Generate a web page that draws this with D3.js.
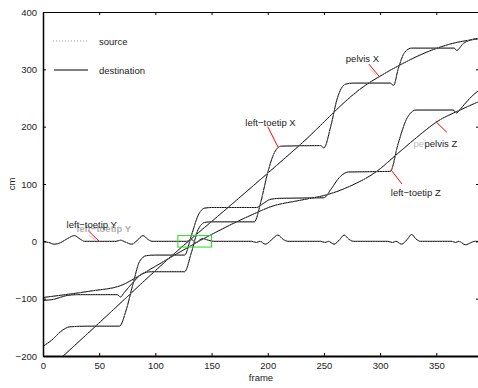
<!DOCTYPE html>
<html>
<head>
<meta charset="utf-8">
<script src="https://cdn.jsdelivr.net/npm/d3@7"></script>
<style>
  body { margin: 0; background: white; }
  svg { display: block; font-family: "Liberation Sans", Arial, sans-serif; }
  .tick text { font-size: 9.5px; fill: #222; }
  .lbl { font-size: 9.5px; fill: #222; }
</style>
</head>
<body>
<svg width="478" height="388"></svg>
<script>
// [frame, cm] points
var pelvisX = [[0,-232],[18,-200],[60,-124],[113,-28],[170,68],[228,167],[289,275],
  [299,287],[320,310],[344,332],[362,344],[387,353]]

var pelvisZ = [[0,-98],[20,-93],[45,-86],[68,-78],[90,-55],[110,-32],[150,12],[190,50],
  [202,60],[230,72],[254,82],[273,96],[297,122],[315,152],[338,190],[350,208],[370,228],[387,243]]

var toetipX = [[0,-103],[10,-101],[20,-95],[30,-93],[66,-93],[69,-97],[72,-90],[80,-72],
  [88,-57],[96,-53],[126,-53],[132,-20],[138,20],[144,33],[150,34],[188,34],[194,70],
  [200,120],[206,155],[212,166],[247,167],[250,163],[256,200],[262,250],[269,274],[276,276],
  [309,276],[312,272],[316,300],[322,330],[328,337],[366,337],[368,333],[374,345],[380,351],[387,354]]

var toetipZ = [[0,-183],[8,-172],[16,-157],[24,-149],[40,-148],[68,-148],[74,-120],[80,-75],
  [86,-35],[92,-25],[100,-24],[126,-24],[132,10],[138,45],[144,58],[150,59],[190,59],[196,66],
  [202,73],[210,75],[250,76],[256,90],[264,112],[272,121],[309,122],[316,170],[324,215],
  [332,229],[365,229],[368,224],[372,232],[380,250],[387,262]]

var toetipY = [[0,0],[5,-2],[10,-5],[16,-2],[22,5],[28,10],[33,4],[37,0],[65,0],[69,2],[73,-1],
  [79,-5],[84,2],[89,10],[93,4],[97,0],[128,0],[132,3],[136,-2],[142,5],[147,2],[152,0],
  [186,0],[190,-2],[193,0],[198,-5],[203,2],[209,11],[214,3],[218,0],[247,0],[251,-2],[254,0],
  [259,-5],[264,3],[268,11],[272,4],[276,0],[307,0],[311,-2],[314,0],[319,-5],[324,3],[328,12],
  [332,4],[336,0],[364,0],[367,-2],[370,0],[376,-6],[381,-2],[384,0],[387,0]]

var xTicks = [0, 50, 100, 150, 200, 250, 300, 350]
var yTicks = [-200, -100, 0, 100, 200, 300, 400]

// label text, point on curve [frame, cm], text position, other end of leader
var labels = [
  { name: "left\u2212toetip Y", at: [50, 0], text: [21, 24], tip: [40, 19] },
  { name: "left\u2212toetip X", at: [209.5, 163], text: [180, 202], tip: [200, 200] },
  { name: "pelvis X", at: [299.5, 287], text: [269.5, 312], tip: [290, 309] },
  { name: "pelvis Z", at: [349.5, 209], text: [339.5, 164], tip: [359.5, 190] },
  { name: "left\u2212toetip Z", at: [309.5, 125], text: [309.5, 79], tip: [319.5, 100] }
]

var box = { x: [120, 150], y: [-10, 10] }

var
  svg = d3.select("svg"),
  margin = { top: 12, right: -1, bottom: 32, left: 43 },
  width = 478 - margin.left - margin.right,
  height = 388 - margin.top - margin.bottom

var
  frame = d3.scaleLinear().domain([0, 388]).range([margin.left, margin.left + width]),
  cm = d3.scaleLinear().domain([-200, 400]).range([margin.top + height, margin.top])

svg.append("clipPath").attr("id", "plot")
  .append("rect")
  .attr("x", margin.left).attr("y", margin.top)
  .attr("width", width).attr("height", height)

var line = d3.line()
  .x(d => frame(d[0]))
  .y(d => cm(d[1]))
  .curve(d3.curveMonotoneX)

var series = [pelvisX, pelvisZ, toetipX, toetipZ, toetipY]
var plot = svg.append("g").attr("clip-path", "url(#plot)")

plot.selectAll("path.dest").data(series).join("path")
  .attr("class", "dest")
  .attr("d", line)
  .attr("fill", "none")
  .attr("stroke", "#000")
  .attr("stroke-width", 1)

plot.selectAll("path.src").data(series).join("path")
  .attr("class", "src")
  .attr("d", line)
  .attr("fill", "none")
  .attr("stroke", "#888")
  .attr("stroke-width", 1)
  .attr("stroke-dasharray", "1,1.5")

// green box
svg.append("rect")
  .attr("x", frame(box.x[0])).attr("y", cm(box.y[1]))
  .attr("width", frame(box.x[1]) - frame(box.x[0]))
  .attr("height", cm(box.y[0]) - cm(box.y[1]))
  .attr("fill", "none")
  .attr("stroke", "#22dd22")
  .attr("stroke-width", 1)

// faint source leaders
;[0, 2].forEach(function(i) {
  var l = labels[i]
  svg.append("line")
    .attr("x1", frame(l.tip[0]) + 1).attr("y1", cm(l.tip[1]) + 5)
    .attr("x2", frame(l.at[0]) - 3).attr("y2", cm(l.at[1]) - 1)
    .attr("stroke", "#f8b8b8").attr("stroke-width", 1)
})

labels.forEach(function(l) {
  svg.append("line")
    .attr("x1", frame(l.tip[0])).attr("y1", cm(l.tip[1]))
    .attr("x2", frame(l.at[0])).attr("y2", cm(l.at[1]))
    .attr("stroke", "red").attr("stroke-width", 1)
})

// grey source labels
svg.append("text").attr("class", "lbl")
  .attr("x", frame(labels[0].text[0]) + 10).attr("y", cm(labels[0].text[1]) + 4)
  .style("fill", "#b0b0b0").style("font-weight", "bold")
  .text(labels[0].name)
svg.append("text").attr("class", "lbl")
  .attr("x", frame(labels[3].text[0]) - 11).attr("y", cm(labels[3].text[1]))
  .style("fill", "#bbb")
  .text(labels[3].name)

labels.forEach(function(l, i) {
  svg.append("text").attr("class", "lbl")
    .attr("x", frame(l.text[0])).attr("y", cm(l.text[1]))
    .style("paint-order", i == 3 ? "stroke" : null)
    .style("stroke", i == 3 ? "white" : null)
    .style("stroke-width", i == 3 ? 2 : null)
    .text(l.name)
})

// axes, ticks inward
var bottomAxis = svg.append("g")
  .attr("transform", `translate(0,${margin.top + height})`)
  .call(d3.axisBottom(frame).tickValues(xTicks).tickSizeInner(-3).tickSizeOuter(0).tickPadding(6))
svg.append("g")
  .attr("transform", `translate(0,${margin.top})`)
  .call(d3.axisTop(frame).tickValues(xTicks).tickSizeInner(-3).tickSizeOuter(0).tickFormat(""))
var leftAxis = svg.append("g")
  .attr("transform", `translate(${margin.left},0)`)
  .call(d3.axisLeft(cm).tickValues(yTicks).tickSizeInner(-3).tickSizeOuter(0).tickPadding(6))
svg.append("g")
  .attr("transform", `translate(${margin.left + width},0)`)
  .call(d3.axisRight(cm).tickValues(yTicks).tickSizeInner(-3).tickSizeOuter(0).tickFormat(""))

svg.selectAll(".domain").attr("stroke", "#000")
bottomAxis.select(".domain").attr("stroke-width", 2.2)
leftAxis.select(".domain").attr("stroke-width", 1.5)
leftAxis.selectAll("text").text(d => d < 0 ? "\u2212" + (-d) : d)

svg.append("text").attr("class", "lbl")
  .attr("x", margin.left + width / 2).attr("y", 381)
  .style("text-anchor", "middle")
  .text("frame")

svg.append("text").attr("class", "lbl")
  .attr("transform", `translate(15,${margin.top + height / 2}) rotate(270)`)
  .style("text-anchor", "middle")
  .text("cm")

// legend
svg.append("line")
  .attr("x1", 53).attr("x2", 87).attr("y1", 41).attr("y2", 41)
  .attr("stroke", "#999").attr("stroke-dasharray", "1,2")
svg.append("text").attr("class", "lbl").attr("x", 99).attr("y", 44.5).text("source")
svg.append("line")
  .attr("x1", 54).attr("x2", 88).attr("y1", 70).attr("y2", 70)
  .attr("stroke", "#000")
svg.append("text").attr("class", "lbl").attr("x", 99).attr("y", 73.5).text("destination")
</script>
</body>
</html>
